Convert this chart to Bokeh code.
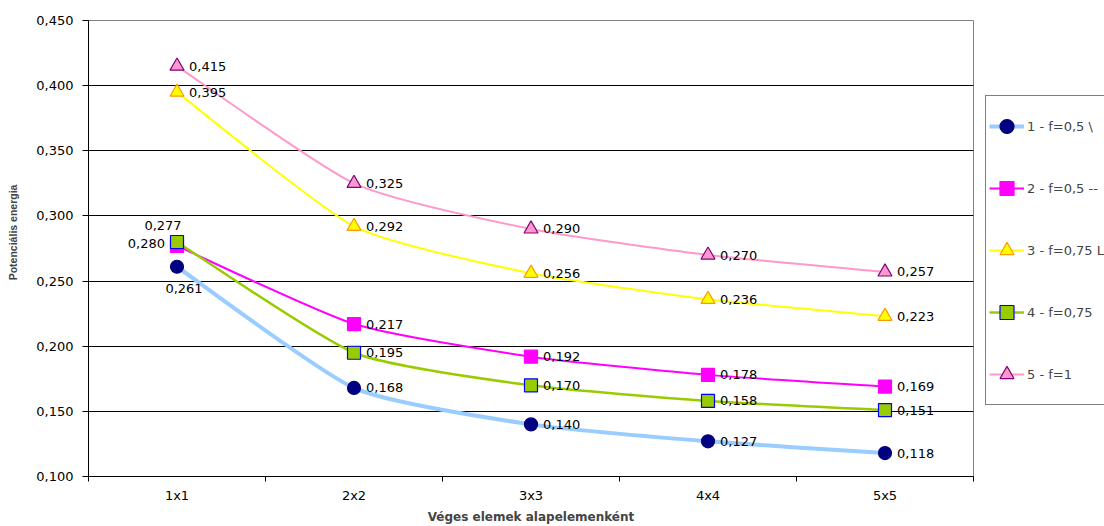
import numpy as np
from bokeh.plotting import figure
from bokeh.layouts import row
from bokeh.models import (Range1d, FixedTicker, CustomJSTickFormatter, Legend,
                          LegendItem, ColumnDataSource)
from bokeh.core.properties import value
from bokeh.embed import file_html
from bokeh.resources import INLINE

# ---- data -------------------------------------------------------------
categories = ["1x1", "2x2", "3x3", "4x4", "5x5"]
series_names = ["1 - f=0,5 \\", "2 - f=0,5 --", "3 - f=0,75 L", "4 - f=0,75", "5 - f=1"]
s1 = [0.261, 0.168, 0.140, 0.127, 0.118]
s2 = [0.277, 0.217, 0.192, 0.178, 0.169]
s3 = [0.395, 0.292, 0.256, 0.236, 0.223]
s4 = [0.280, 0.195, 0.170, 0.158, 0.151]
s5 = [0.415, 0.325, 0.290, 0.270, 0.257]
y_ticks = [0.10, 0.15, 0.20, 0.25, 0.30, 0.35, 0.40, 0.45]

series = [s1, s2, s3, s4, s5]

# ---- styling ----------------------------------------------------------
styles = [
    dict(line="#99CCFF", lw=4.0, marker="circle", fill="#000080", edge="#000080", size=13),
    dict(line="#FF00FF", lw=2.0, marker="square", fill="#FF00FF", edge="#FF00FF", size=13),
    dict(line="#FFFF00", lw=2.0, marker="triangle", fill="#FFFF00", edge="#FF9900", size=14),
    dict(line="#99CC00", lw=2.5, marker="square", fill="#99CC00", edge="#0000FF", size=13),
    dict(line="#FF99CC", lw=2.0, marker="triangle", fill="#FF99CC", edge="#800080", size=14),
]
KEY_SIZE = 10       # marker size inside the legend
TENSION = 1 / 10    # curve smoothing strength

# data-label placement (pixel offsets, alignment); default is right of the marker
DEFAULT_LABEL = (12, 0, "left")
label_tweaks = {
    (0, 0): (7, 22, "center"),
    (1, 0): (-14, -20, "center"),
    (3, 0): (-12, 2, "right"),
}

FONT = "DejaVu Sans"

p = figure(width=985, height=526, output_backend="svg", toolbar_location=None,
           x_range=Range1d(0.5, 5.5), y_range=Range1d(0.10, 0.45),
           min_border_left=88, min_border_right=12, min_border_top=20,
           min_border_bottom=50)
p.background_fill_color = "white"
p.border_fill_color = "white"
p.outline_line_color = "#808080"
p.outline_line_width = 1

# axes
p.yaxis.ticker = FixedTicker(ticks=y_ticks)
p.yaxis.formatter = CustomJSTickFormatter(code="return tick.toFixed(3).replace('.', ',');")
p.yaxis.major_tick_in = 0
p.yaxis.major_tick_out = 6
p.yaxis.minor_tick_line_color = None
p.yaxis.major_label_standoff = 9
p.yaxis.axis_line_color = "black"
p.yaxis.major_tick_line_color = "black"
# leading no-break spaces nudge the centred title a little upwards
p.yaxis.axis_label = "\u00a0" * 11 + "Potenciális energia"
p.yaxis.axis_label_standoff = 14
p.yaxis.axis_label_text_font = "Liberation Sans"
p.yaxis.axis_label_text_font_size = "10.5px"
p.yaxis.axis_label_text_font_style = "bold"

xpos = list(range(1, len(categories) + 1))
p.xaxis.ticker = FixedTicker(ticks=xpos,
                             minor_ticks=[i - 0.5 for i in xpos] + [xpos[-1] + 0.5])
p.xaxis.major_label_overrides = {i: c for i, c in zip(xpos, categories)}
p.xaxis.major_tick_in = 0
p.xaxis.major_tick_out = 0
p.xaxis.minor_tick_in = 0
p.xaxis.minor_tick_out = 5
p.xaxis.minor_tick_line_color = "black"
p.xaxis.major_label_standoff = 6
p.xaxis.axis_line_color = "black"
p.xaxis.axis_label = "Véges elemek alapelemenként"
p.xaxis.axis_label_standoff = 4
p.xaxis.axis_label_text_font = FONT
p.xaxis.axis_label_text_font_size = "12px"
p.xaxis.axis_label_text_font_style = "bold"

for ax in (p.xaxis, p.yaxis):
    ax.major_label_text_font = FONT
    ax.major_label_text_font_size = "13px"
    ax.major_label_text_color = "black"

p.xgrid.grid_line_color = None
p.ygrid.ticker = FixedTicker(ticks=y_ticks[1:-1])
p.ygrid.grid_line_color = "black"
p.ygrid.grid_line_width = 1


def bezier_parts(xs, ys, t=TENSION):
    """Smoothed-curve segments (Catmull-Rom style control points)."""
    xs = np.asarray(xs, float)
    ys = np.asarray(ys, float)
    n = len(xs)
    out = dict(x0=[], y0=[], x1=[], y1=[], cx0=[], cy0=[], cx1=[], cy1=[])
    for i in range(n - 1):
        a = max(i - 1, 0)
        b = min(i + 2, n - 1)
        out["x0"].append(xs[i]); out["y0"].append(ys[i])
        out["x1"].append(xs[i + 1]); out["y1"].append(ys[i + 1])
        out["cx0"].append(xs[i] + (xs[i + 1] - xs[a]) * t)
        out["cy0"].append(ys[i] + (ys[i + 1] - ys[a]) * t)
        out["cx1"].append(xs[i + 1] - (xs[b] - xs[i]) * t)
        out["cy1"].append(ys[i + 1] - (ys[b] - ys[i]) * t)
    return out


# side panel that only holds the legend (its plotting area shows nothing)
lf = figure(width=119, height=526, output_backend="svg", toolbar_location=None,
            x_range=Range1d(-2, -1), y_range=Range1d(0, 1),
            x_axis_location=None, y_axis_location=None, min_border=0)
lf.grid.visible = False
lf.outline_line_color = None
lf.background_fill_color = "white"
lf.border_fill_color = "white"

items = []
for k, (vals, st, name) in enumerate(zip(series, styles, series_names)):
    src = ColumnDataSource(bezier_parts(xpos, vals))
    p.bezier(x0="x0", y0="y0", x1="x1", y1="y1", cx0="cx0", cy0="cy0",
             cx1="cx1", cy1="cy1", source=src, line_color=st["line"],
             line_width=st["lw"])
    p.scatter(x=xpos, y=vals, marker=st["marker"], size=st["size"],
              fill_color=st["fill"], line_color=st["edge"], line_width=1.2)
    # legend swatches (outside the side panel's visible range)
    key_line = lf.line(x=xpos, y=vals, line_color=st["line"], line_width=st["lw"])
    key_pts = lf.scatter(x=xpos, y=vals, marker=st["marker"], size=KEY_SIZE,
                         fill_color=st["fill"], line_color=st["edge"], line_width=1.2)
    items.append(LegendItem(label=name, renderers=[key_line, key_pts]))

# data labels
for k, vals in enumerate(series):
    xo, yo, al = [], [], []
    for i in range(len(vals)):
        dx, dy, a = label_tweaks.get((k, i), DEFAULT_LABEL)
        xo.append(dx); yo.append(dy); al.append(a)
    lsrc = ColumnDataSource(dict(
        x=xpos, y=vals, t=[f"{v:.3f}".replace(".", ",") for v in vals],
        xo=xo, yo=yo, al=al))
    p.text(x="x", y="y", text="t", x_offset="xo", y_offset="yo", text_align="al",
           text_baseline="middle", text_font=value(FONT), text_font_size="13px",
           text_color="black", source=lsrc)

legend = Legend(items=items, location=(0, 71), orientation="vertical",
                glyph_width=35, glyph_height=54, label_height=54, spacing=8,
                padding=3, margin=0, label_standoff=3,
                label_text_font=FONT, label_text_font_size="13px",
                border_line_color="black", border_line_width=1,
                background_fill_color="white", background_fill_alpha=1)
lf.add_layout(legend)

layout = row(p, lf, spacing=0)
open("out.html", "w").write(file_html(layout, INLINE))
